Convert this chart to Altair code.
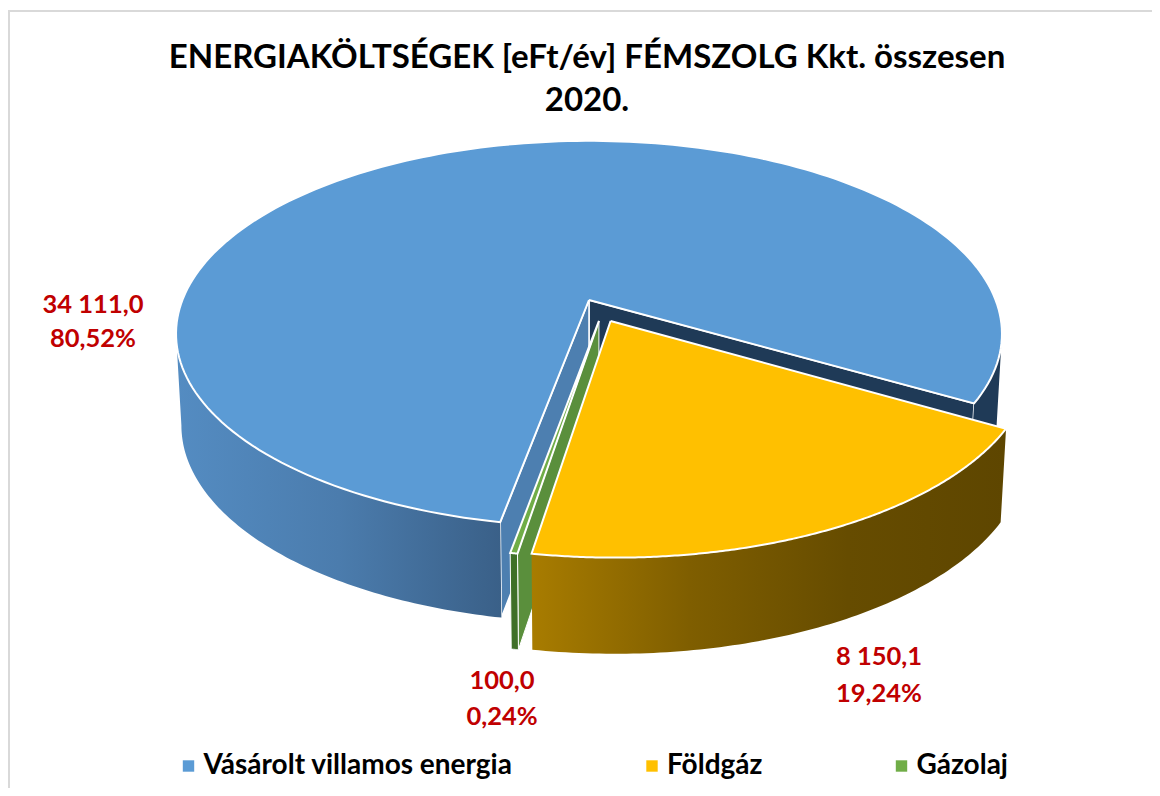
import numpy as np
import pandas as pd
import altair as alt

# ---- chart values ----
CATEGORIES = ["Vásárolt villamos energia", "Földgáz", "Gázolaj"]
VALUES = [34111.0, 8150.1, 100.0]
TOP_COLORS = ["#5B9BD5", "#FFC000", "#70AD47"]
LABEL_LINES = [
    ["34 111,0", "80,52%"],
    ["8 150,1", "19,24%"],
    ["100,0", "0,24%"],
]
TITLE_LINES = ["ENERGIAKÖLTSÉGEK [eFt/év] FÉMSZOLG Kkt. összesen", "2020."]

# ---- view of the tilted 3D pie ----
FONT = "Lato"
CX, CY = 589.0, 300.0
SX, SY, K = 406.6, 187.0, 0.175
START = 30.3
EXPLODE = {"Vásárolt villamos energia": (0.0, 0.0), "Földgáz": (0.052, 0.11), "Gázolaj": (0.024, 0.11)}

fractions = np.array(VALUES) / sum(VALUES)
sweep = {c: f * 360 for c, f in zip(CATEGORIES, fractions)}
a_orange = (START, START + sweep["Földgáz"])
a_green = (a_orange[1], a_orange[1] + sweep["Gázolaj"])
a_blue = (a_green[1], a_green[1] + sweep["Vásárolt villamos energia"])


def project(px, py):
    w = 1 - K * py
    return CX + SX * px / w, CY + SY * py / w


def rim(cat, a1, a2, n=90):
    ox, oy = EXPLODE[cat]
    t = np.radians(np.linspace(a1, a2, n))
    return project(np.cos(t) + ox, np.sin(t) + oy)


def apex(cat):
    ox, oy = EXPLODE[cat]
    x, y = project(ox, oy)
    return np.array([x]), np.array([y])


def lower(x, y):
    return CX + (x - CX) * 0.987, 391 + (y - CY) * 1.02


def poly(x, y, cat="", name=""):
    x = np.append(x, x[0])
    y = np.append(y, y[0])
    return pd.DataFrame({"x": x, "y": y, "ord": np.arange(len(x)), "cat": cat, "poly": name})


def wall(cat, a1, a2):
    x, y = rim(cat, a1, a2)
    xb, yb = lower(x, y)
    return poly(np.r_[x, xb[::-1]], np.r_[y, yb[::-1]])


def cut(cat, a):
    x, y = rim(cat, a, a, 1)
    ax, ay = apex(cat)
    xb, yb = lower(x, y)
    axb, ayb = lower(ax, ay)
    return poly(np.r_[ax, x, xb, axb], np.r_[ay, y, yb, ayb])


def top(cat, a1, a2):
    x, y = rim(cat, a1, a2, 200)
    ax, ay = apex(cat)
    return poly(np.r_[ax, x], np.r_[ay, y], cat, cat)


X = alt.X("x:Q", axis=None, scale=alt.Scale(domain=[8, 1152], range=[0, 1144], nice=False, zero=False))
Y = alt.Y("y:Q", axis=None, scale=alt.Scale(domain=[8, 788], range=[0, 780], nice=False, zero=False))
O = alt.Order("ord:Q")


def grad(*colors):
    offs = np.linspace(0, 1, len(colors))
    return alt.Gradient(gradient="linear", x1=0, y1=0, x2=1, y2=0,
                        stops=[alt.GradientStop(color=c, offset=float(o)) for c, o in zip(colors, offs)])


def face(df, fill, sw=1.5):
    return alt.Chart(df).mark_line(fill=fill, stroke="white", strokeWidth=sw, interpolate="linear").encode(x=X, y=Y, order=O)


layers = []
# frame
frame_h = pd.DataFrame({"x": [8, 1152], "y": [11, 11]})
frame_v = pd.DataFrame({"x": [9, 9], "y": [10, 788]})
for fr in (frame_h, frame_v):
    layers.append(alt.Chart(fr).mark_line(color="#D9D9D9", strokeWidth=2).encode(x=X, y=Y))

V = CATEGORIES[0]
F = CATEGORIES[1]
G = CATEGORIES[2]

# blue slice: walls then top
layers.append(face(cut(V, a_blue[1]), "#1F3A57"))
layers.append(face(cut(V, a_blue[0]), "#4D7FB0"))
layers.append(face(wall(V, 10, START), "#1F3A57", 0))
layers.append(face(wall(V, a_blue[0], 170), grad("#548CC2", "#4B7CAD", "#3A6088"), 0))
# green slice
layers.append(face(cut(G, a_green[0]), "#5A8F3C", 1))
layers.append(face(wall(G, a_green[0], a_green[1]), "#3F7027", 1))
# orange walls
layers.append(face(wall(F, a_orange[0], a_orange[1]), grad("#A87C00", "#7F5E00", "#664C00", "#5E4600"), 0))

# tops, with the legend
tops = pd.concat([top(V, *a_blue), top(G, *a_green), top(F, *a_orange)])
layers.append(
    alt.Chart(tops).mark_line(stroke="white", strokeWidth=2, interpolate="linear").encode(
        x=X, y=Y, order=O,
        fill=alt.Fill(
            "cat:N",
            scale=alt.Scale(domain=CATEGORIES, range=TOP_COLORS),
            legend=alt.Legend(
                title=None, orient="none", legendX=166.5, legendY=744, direction="horizontal", columns=3,
                columnPadding=124.5, symbolType="square", symbolSize=130, symbolStrokeWidth=0,
                labelFont=FONT, labelFontWeight="bold", labelFontSize=28, labelColor="#000000",
                labelLimit=500, labelOffset=1, symbolOffset=0,
            ),
        ),
    )
)

# data labels
lab = pd.DataFrame({
    "x": [93, 93, 879, 879, 502, 502],
    "y": [305, 339, 657, 694, 681, 717],
    "t": [s for pair in LABEL_LINES for s in pair],
})
layers.append(
    alt.Chart(lab).mark_text(font=FONT, fontWeight="bold", fontSize=25.5, color="#C00000", align="center", baseline="middle")
    .encode(x=X, y=Y, text="t:N")
)

chart = alt.layer(*layers).properties(
    width=1144, height=780, padding=0, autosize=alt.AutoSizeParams(type="none"), background="white",
    title=alt.TitleParams(
        text=TITLE_LINES, font=FONT, fontWeight="bold", fontSize=33, color="#000000",
        anchor="start", align="center", dx=583, dy=112, lineHeight=43, offset=0,
    ),
).configure_view(stroke=None)

chart.save("out.html", embed_options={"renderer": "svg", "actions": False})
